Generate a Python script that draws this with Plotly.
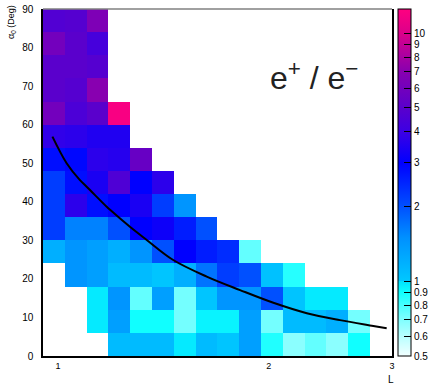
import numpy as np
import plotly.graph_objects as go

# ---- data ----
# L bins (log-spaced, 15 bins) and pitch-angle bins (6 deg)
L_lo, L_hi, n_L = 0.952, 2.79, 15
L_edges = np.logspace(np.log10(L_lo), np.log10(L_hi), n_L + 1)
alpha_edges = list(range(0, 91, 6))

N = None
# e+/e- ratio per cell, rows from alpha 0-6 (bottom) to 84-90 (top)
row_00_06 = [N, N, N, 1.1, 1.1, 1.1, 0.97, 1.1, 1.02, 1.35, 0.87, 0.68, 0.75, 0.68, 0.9]
row_06_12 = [N, N, 0.97, 1.35, 0.9, 0.9, 0.72, 0.94, 0.94, 1.35, 0.72, 1.1, 1.1, 1.2, 0.72]
row_12_18 = [N, N, 0.97, 1.45, 0.75, 1.35, 0.72, 1.02, 1.45, 1.45, 2.0, 1.03, 0.97, 0.97, N]
row_18_24 = [N, 1.45, 1.35, 1.1, 1.1, 1.02, 1.2, 1.7, 2.2, 2.0, 1.05, 0.86, N, N, N]
row_24_30 = [1.2, 1.45, 1.35, 1.2, 1.45, 2.0, 3.0, 2.6, 2.4, 0.75, N, N, N, N, N]
row_30_36 = [2.2, 1.6, 1.6, 2.0, 3.0, 3.2, 2.6, 2.0, N, N, N, N, N, N, N]
row_36_42 = [2.2, 3.7, 2.8, 3.0, 3.4, 2.2, 1.45, N, N, N, N, N, N, N, N]
row_42_48 = [2.2, 2.8, 3.4, 4.6, 3.0, 3.7, N, N, N, N, N, N, N, N, N]
row_48_54 = [2.8, 2.9, 3.7, 3.6, 5.5, N, N, N, N, N, N, N, N, N, N]
row_54_60 = [3.8, 3.7, 3.5, 3.5, N, N, N, N, N, N, N, N, N, N, N]
row_60_66 = [6.0, 4.5, 5.0, 12.0, N, N, N, N, N, N, N, N, N, N, N]
row_66_72 = [5.0, 4.8, 7.0, N, N, N, N, N, N, N, N, N, N, N, N]
row_72_78 = [5.0, 5.0, 4.8, N, N, N, N, N, N, N, N, N, N, N, N]
row_78_84 = [6.0, 5.0, 4.3, N, N, N, N, N, N, N, N, N, N, N, N]
row_84_90 = [4.7, 4.8, 6.5, N, N, N, N, N, N, N, N, N, N, N, N]

rows = [row_00_06, row_06_12, row_12_18, row_18_24, row_24_30, row_30_36,
        row_36_42, row_42_48, row_48_54, row_54_60, row_60_66, row_66_72,
        row_72_78, row_78_84, row_84_90]

# loss-cone-like curve
curve_L = [0.982, 1.029, 1.075, 1.099, 1.174, 1.187, 1.267, 1.339, 1.461,
           1.631, 1.820, 2.031, 2.267, 2.528, 2.821, 2.948]
curve_alpha = [56.9, 50.0, 45.6, 43.9, 38.7, 37.9, 33.5, 30.1, 24.9,
               20.6, 17.1, 13.8, 11.1, 9.3, 7.8, 7.2]

cb_ticks = [0.5, 0.6, 0.7, 0.8, 0.9, 1, 2, 3, 4, 5, 6, 7, 8, 9, 10]
cb_ticktext = ["0.5", "0.6", "0.7", "0.8", "0.9", "1", "2", "3", "4", "5",
               "6", "7", "8", "9", "10"]
x_ticks = [1, 2, 3]
y_ticks = list(range(0, 91, 10))

z_min, z_max = 0.5, 12.5

# ---- build ----
lzmin, lzmax = np.log10(z_min), np.log10(z_max)


def tpos(v):
    return (np.log10(v) - lzmin) / (lzmax - lzmin)


stops = [
    (0.5, "#f2ffff"), (0.6, "#b8ffff"), (0.7, "#80ffff"), (0.8, "#48ffff"),
    (0.9, "#10ffff"), (0.9999, "#00e2ff"), (1.0, "#00c8ff"), (1.5, "#0090ff"),
    (2.0, "#0050ff"), (3.0, "#0000ff"), (4.0, "#3c00e4"), (5.0, "#5a00cc"),
    (7.0, "#8800b0"), (10.0, "#dc008a"), (12.5, "#ff0080"),
]
colorscale = [[float(max(0, min(1, tpos(v)))), c] for v, c in stops]
colorscale[0][0] = 0.0
colorscale[-1][0] = 1.0

z = [[(np.log10(v) if v is not None else None) for v in r] for r in rows]

FONT = "Liberation Sans, Arial, sans-serif"
CB_X0, CB_X1 = (398 - 43) / 349, (411 - 43) / 349

fig = go.Figure()
fig.add_trace(go.Heatmap(
    x=L_edges, y=alpha_edges, z=z,
    zmin=lzmin, zmax=lzmax, colorscale=colorscale,
    hoverongaps=False,
    colorbar=dict(
        x=CB_X0, xanchor="left", xpad=0,
        y=0.5, yanchor="middle", len=1.0, ypad=0,
        thickness=13, outlinewidth=1, outlinecolor="black",
        tickvals=[float(np.log10(v)) for v in cb_ticks], ticktext=cb_ticktext,
        ticks="inside", ticklen=7, tickcolor="black", tickwidth=1,
        tickfont=dict(family=FONT, size=10, color="black"),
    ),
))
fig.add_trace(go.Scatter(
    x=curve_L, y=curve_alpha, mode="lines",
    line=dict(color="black", width=2, shape="spline"), showlegend=False,
    hoverinfo="skip",
))

# full-width colorbar lines at 1 and 10
for v in [1, 10]:
    yy = tpos(v)
    fig.add_shape(type="line", xref="paper", yref="paper",
                  x0=CB_X0, x1=CB_X1, y0=yy, y1=yy,
                  line=dict(color="black", width=1))

# top frame line (gray)
fig.add_shape(type="line", xref="paper", yref="paper", x0=0, x1=1, y0=1, y1=1,
              line=dict(color="#808080", width=1.5))

fig.add_annotation(text="e<sup>+</sup> / e<sup>−</sup>", xref="paper", yref="paper",
                   x=(268 - 43) / 349, y=(356 - 76) / 347, xanchor="left",
                   yanchor="middle", showarrow=False,
                   font=dict(family=FONT, size=32, color="#222"))
fig.add_annotation(text="α<sub>0</sub> (Deg)", xref="paper", yref="paper",
                   x=(12 - 43) / 349, y=(356 - 22) / 347, textangle=-90,
                   showarrow=False, xanchor="center", yanchor="middle",
                   font=dict(family=FONT, size=9, color="black"))
fig.add_annotation(text="L", xref="paper", yref="paper",
                   x=(391 - 43) / 349, y=(356 - 379) / 347, showarrow=False,
                   xanchor="center", yanchor="middle",
                   font=dict(family=FONT, size=10, color="black"))

fig.update_xaxes(type="log", range=[np.log10(L_lo), np.log10(3)],
                 tickvals=x_ticks, ticktext=[str(t) for t in x_ticks],
                 showgrid=False, zeroline=False, showline=True,
                 linecolor="black", linewidth=2, ticks="", automargin=False,
                 tickfont=dict(family=FONT, size=9, color="black"))
fig.update_yaxes(range=[0, 90], tickvals=y_ticks, showgrid=False, zeroline=False,
                 showline=True, linecolor="black", linewidth=1.5, mirror=True,
                 ticks="", ticklabelstandoff=6, automargin=False,
                 tickfont=dict(family=FONT, size=10, color="black"))

fig.update_layout(width=436, height=385,
                  margin=dict(l=43, r=44, t=9, b=29, autoexpand=False),
                  plot_bgcolor="white", paper_bgcolor="white", showlegend=False)

fig.write_html("out.html", config={"displayModeBar": False},
               post_script="document.body.style.margin='0';document.body.style.padding='0';")
